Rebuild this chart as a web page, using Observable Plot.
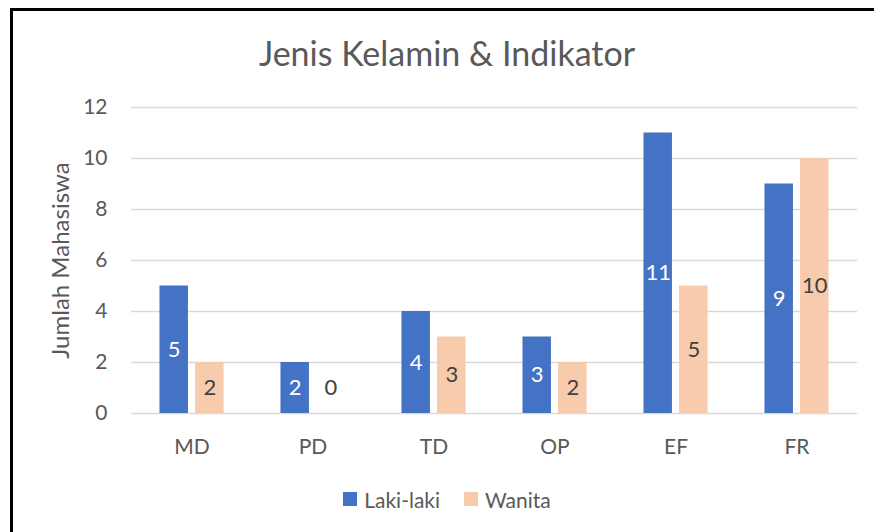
<!DOCTYPE html>
<html>
<head>
<meta charset="utf-8">
<script src="https://cdn.jsdelivr.net/npm/d3@7"></script>
<script src="https://cdn.jsdelivr.net/npm/@observablehq/plot@0.6"></script>
<style>
  html, body { margin: 0; padding: 0; background: #fff; }
  #wrap { position: relative; width: 874px; height: 532px; overflow: hidden; font-family: Lato, "Noto Sans", sans-serif; }
  #frame { position: absolute; left: 10px; top: 8px; width: 1000px; height: 1000px; border-left: 3px solid #000; border-top: 3px solid #000; box-sizing: border-box; }
  #title { position: absolute; left: 10px; width: 874px; top: 33px; text-align: center; font-size: 34px; color: #595959; line-height: 40px; }
  #chart { position: absolute; left: 0; top: 80px; }
  #legend { position: absolute; left: 10px; width: 874px; top: 485px; text-align: center; font-size: 21px; color: #595959; }
  #legend span.item { display: inline-flex; align-items: center; margin: 0 12px; }
  #legend span.sw { display: inline-block; width: 14px; height: 14px; margin-right: 7px; }
</style>
</head>
<body>
<div id="wrap">
  <div id="frame"></div>
  <div id="title">Jenis Kelamin &amp; Indikator</div>
  <div id="chart"></div>
  <div id="legend"></div>
</div>
<script>
const categories = ["MD", "PD", "TD", "OP", "EF", "FR"];
const seriesNames = ["Laki-laki", "Wanita"];
const lakiLaki = [5, 2, 4, 3, 11, 9];
const wanita = [2, 0, 3, 2, 5, 10];
const yTicks = [0, 2, 4, 6, 8, 10, 12];
const colors = ["#4472C4", "#F8CBAD"];
const labelColors = ["#ffffff", "#404040"];

const data = [];
categories.forEach((c, i) => {
  data.push({cat: c, series: seriesNames[0], value: lakiLaki[i]});
  data.push({cat: c, series: seriesNames[1], value: wanita[i]});
});

const W = 874, H = 380;
const plot = Plot.plot({
  width: W,
  height: H,
  marginLeft: 131,
  marginRight: 17,
  marginTop: 27,
  marginBottom: 47,
  style: {fontFamily: "Lato, 'Noto Sans', sans-serif", color: "#595959", background: "transparent"},
  fx: {domain: categories, padding: 0, label: null, round: false},
  x: {domain: seriesNames, paddingInner: 0.2, paddingOuter: 0.8, axis: null, round: false},
  y: {domain: [0, 12]},
  color: {domain: seriesNames, range: colors},
  marks: [
    Plot.gridY(yTicks, {stroke: "#d9d9d9", strokeOpacity: 1, strokeWidth: 1.5}),
    Plot.axisY(yTicks, {tickSize: 0, tickPadding: 24, fontSize: 21, fill: "#595959",
      label: null}),
    Plot.axisY({ticks: [], tickSize: 0, fontSize: 24, fill: "#595959",
      label: "Jumlah Mahasiswa", labelAnchor: "center", labelArrow: "none", labelOffset: 80}),
    Plot.axisFx({anchor: "bottom", tickSize: 0, tickPadding: 26, fontSize: 21, fill: "#595959", label: null}),
    Plot.barY(data, {fx: "cat", x: "series", y: "value", fill: "series"}),
    Plot.text(data, {fx: "cat", x: "series", y: d => d.value === 0 ? 1 : d.value / 2,
      text: d => String(d.value), fontSize: 22,
      fill: d => labelColors[seriesNames.indexOf(d.series)]})
  ]
});
document.getElementById("chart").appendChild(plot);

const legend = document.getElementById("legend");
seriesNames.forEach((s, i) => {
  const item = document.createElement("span");
  item.className = "item";
  const sw = document.createElement("span");
  sw.className = "sw";
  sw.style.background = colors[i];
  item.appendChild(sw);
  item.appendChild(document.createTextNode(s));
  legend.appendChild(item);
});
</script>
</body>
</html>
